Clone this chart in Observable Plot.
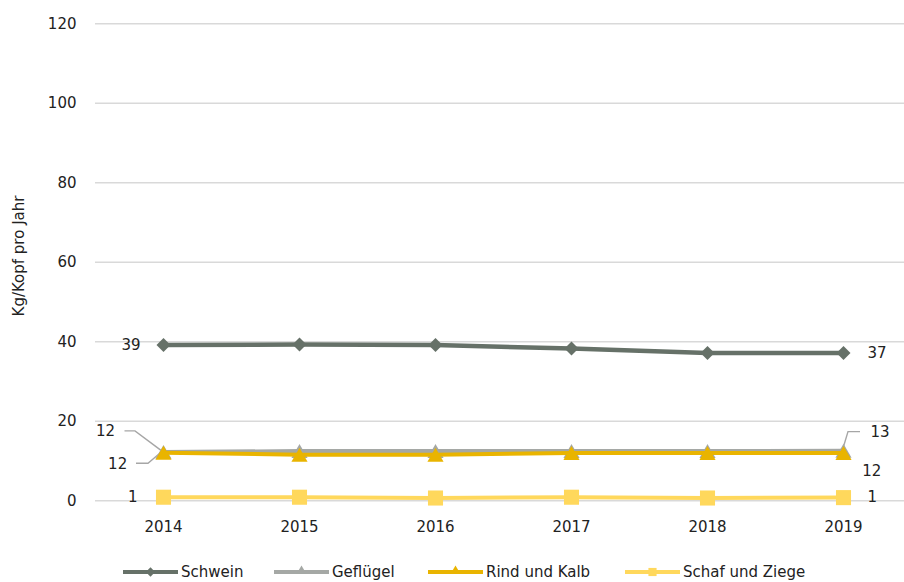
<!DOCTYPE html>
<html lang="de">
<head>
<meta charset="utf-8">
<script src="https://cdn.jsdelivr.net/npm/d3@7"></script>
<script src="https://cdn.jsdelivr.net/npm/@observablehq/plot@0.6"></script>
<style>
  html, body { margin: 0; padding: 0; background: #fff; }
  body { width: 904px; height: 582px; overflow: hidden; font-family: "DejaVu Sans", sans-serif; color: #222; }
  #legend { position: relative; height: 37px; font-size: 15px; color: #222; }
  #legend .item { position: absolute; top: 17px; display: flex; align-items: center; height: 20px; white-space: nowrap; }
  #legend svg { display: block; margin-right: 3px; }
</style>
</head>
<body>
<div id="chart"></div>
<div id="legend"></div>
<script>
// Pro-Kopf-Verbrauch nach Fleischart, 2014–2019
const years = [2014, 2015, 2016, 2017, 2018, 2019];
const seriesNames = ["Schwein", "Geflügel", "Rind und Kalb", "Schaf und Ziege"];
const schwein    = [39.2, 39.3, 39.2, 38.3, 37.2, 37.2];
const gefluegel  = [12.3, 12.5, 12.5, 12.5, 12.5, 12.6];
const rindKalb   = [12.1, 11.6, 11.6, 12.0, 12.0, 12.0];
const schafZiege = [0.9, 0.9, 0.7, 0.9, 0.7, 0.8];
const yTicks = [0, 20, 40, 60, 80, 100, 120];
const yLabel = "Kg/Kopf pro Jahr";

const seriesValues = [schwein, gefluegel, rindKalb, schafZiege];

// Appearance per series (legendLeft: horizontal start of the legend entry)
const styles = {
  "Schwein":         {color: "#667168", symbol: "diamond2", r: 6.3, dy: 0,   width: 4.5, legendR: 4.2, legendLeft: 123},
  "Geflügel":        {color: "#a5a8a5", symbol: "triangle", r: 6,   dy: 2.3, width: 4,   legendR: 3.6, legendLeft: 274},
  "Rind und Kalb":   {color: "#e9b400", symbol: "triangle", r: 6,   dy: 2.3, width: 4,   legendR: 3.6, legendLeft: 428},
  "Schaf und Ziege": {color: "#ffd85c", symbol: "square",   r: 8.5, dy: 0,   width: 4,   legendR: 4.6, legendLeft: 625}
};

const rows = seriesNames.flatMap((name, i) =>
  years.map((year, j) => ({series: name, year, value: seriesValues[i][j]}))
);
const first = years[0], last = years[years.length - 1];
const pick = (name, year) => rows.filter(d => d.series === name && d.year === year);

// Placement of the end labels (pixel offsets from the data point)
const labelSpecs = [
  {series: "Schwein",         year: first, dx: -23,   dy: 0,     anchor: "end"},
  {series: "Schwein",         year: last,  dx: 24,    dy: 0,     anchor: "start"},
  {series: "Geflügel",        year: first, dx: -48.5, dy: -20.8, anchor: "end"},
  {series: "Geflügel",        year: last,  dx: 27,    dy: -18.6, anchor: "start"},
  {series: "Rind und Kalb",   year: first, dx: -36.3, dy: 11.7,  anchor: "end"},
  {series: "Rind und Kalb",   year: last,  dx: 18.7,  dy: 18.3,  anchor: "start"},
  {series: "Schaf und Ziege", year: first, dx: -26,   dy: 0,     anchor: "end"},
  {series: "Schaf und Ziege", year: last,  dx: 24,    dy: 0,     anchor: "start"}
];

// Leader lines for the crowded labels (pixel offsets from the data point)
const leaderSpecs = [
  {series: "Geflügel",      year: first, path: [[-38.5, -20.5], [-28, -20.5], [-2, -1]]},
  {series: "Rind und Kalb", year: first, path: [[-27, 11], [-15, 11], [-2, 0]]},
  {series: "Geflügel",      year: last,  path: [[0, -2], [5, -18.6], [17, -18.6]]}
];

function leaderMark(index, scales) {
  const g = d3.create("svg:g");
  for (const spec of leaderSpecs) {
    const d = pick(spec.series, spec.year)[0];
    const px = scales.x(d.year), py = scales.y(d.value);
    g.append("path")
      .attr("d", d3.line()(spec.path.map(([ox, oy]) => [px + ox, py + oy])))
      .attr("fill", "none")
      .attr("stroke", "#a6a6a6")
      .attr("stroke-width", 1.4);
  }
  return g.node();
}

const seriesMarks = seriesNames.flatMap(name => {
  const s = styles[name];
  const data = rows.filter(d => d.series === name);
  return [
    Plot.line(data, {x: "year", y: "value", stroke: s.color, strokeWidth: s.width}),
    Plot.dot(data, {x: "year", y: "value", symbol: () => s.symbol, r: s.r, fill: s.color, stroke: "none", dy: s.dy})
  ];
});

const labelMarks = labelSpecs.map(spec =>
  Plot.text(pick(spec.series, spec.year), {
    x: "year", y: "value", text: d => String(Math.round(d.value)),
    dx: spec.dx, dy: spec.dy, textAnchor: spec.anchor, fill: "#222", fontSize: 15
  })
);

const chart = Plot.plot({
  width: 904,
  height: 545,
  marginLeft: 95,
  marginRight: 0,
  marginTop: 20,
  marginBottom: 44,
  style: {fontFamily: "DejaVu Sans, sans-serif", fontSize: "15px", color: "#222", background: "#fff"},
  x: {type: "point", domain: years, range: [162.7, 843.3], padding: 0, label: null},
  y: {domain: [0, 120], range: [500.3, 23.3], label: null},
  symbol: {type: "identity"},
  marks: [
    Plot.ruleY(yTicks, {stroke: "#d9d9d9", strokeWidth: 1.6}),
    Plot.axisY({ticks: yTicks, tickSize: 0, tickPadding: 19, label: null, fontSize: 15}),
    Plot.axisX({tickSize: 0, tickPadding: 20, label: null, tickFormat: d => String(d), fontSize: 15}),
    Plot.text([yLabel], {frameAnchor: "left", textAnchor: "middle", rotate: -90, dx: -76.5, dy: -5, fontSize: 15, fill: "#222"}),
    leaderMark,
    ...seriesMarks,
    ...labelMarks
  ]
});
document.getElementById("chart").appendChild(chart);

// Legend below the chart
const legend = d3.select("#legend");
for (const name of seriesNames) {
  const s = styles[name];
  const item = legend.append("div").attr("class", "item").style("left", `${s.legendLeft}px`);
  const svg = item.append("svg").attr("width", 55).attr("height", 16);
  svg.append("line").attr("x1", 0).attr("x2", 55).attr("y1", 8).attr("y2", 8)
    .attr("stroke", s.color).attr("stroke-width", 4);
  const sym = {diamond2: d3.symbolDiamond2, triangle: d3.symbolTriangle, square: d3.symbolSquare}[s.symbol];
  svg.append("path")
    .attr("d", d3.symbol(sym, Math.PI * s.legendR * s.legendR)())
    .attr("transform", `translate(27.5,${8 + (s.symbol === "triangle" ? -1 : 0)})`)
    .attr("fill", s.color);
  item.append("span").text(name);
}
</script>
</body>
</html>
